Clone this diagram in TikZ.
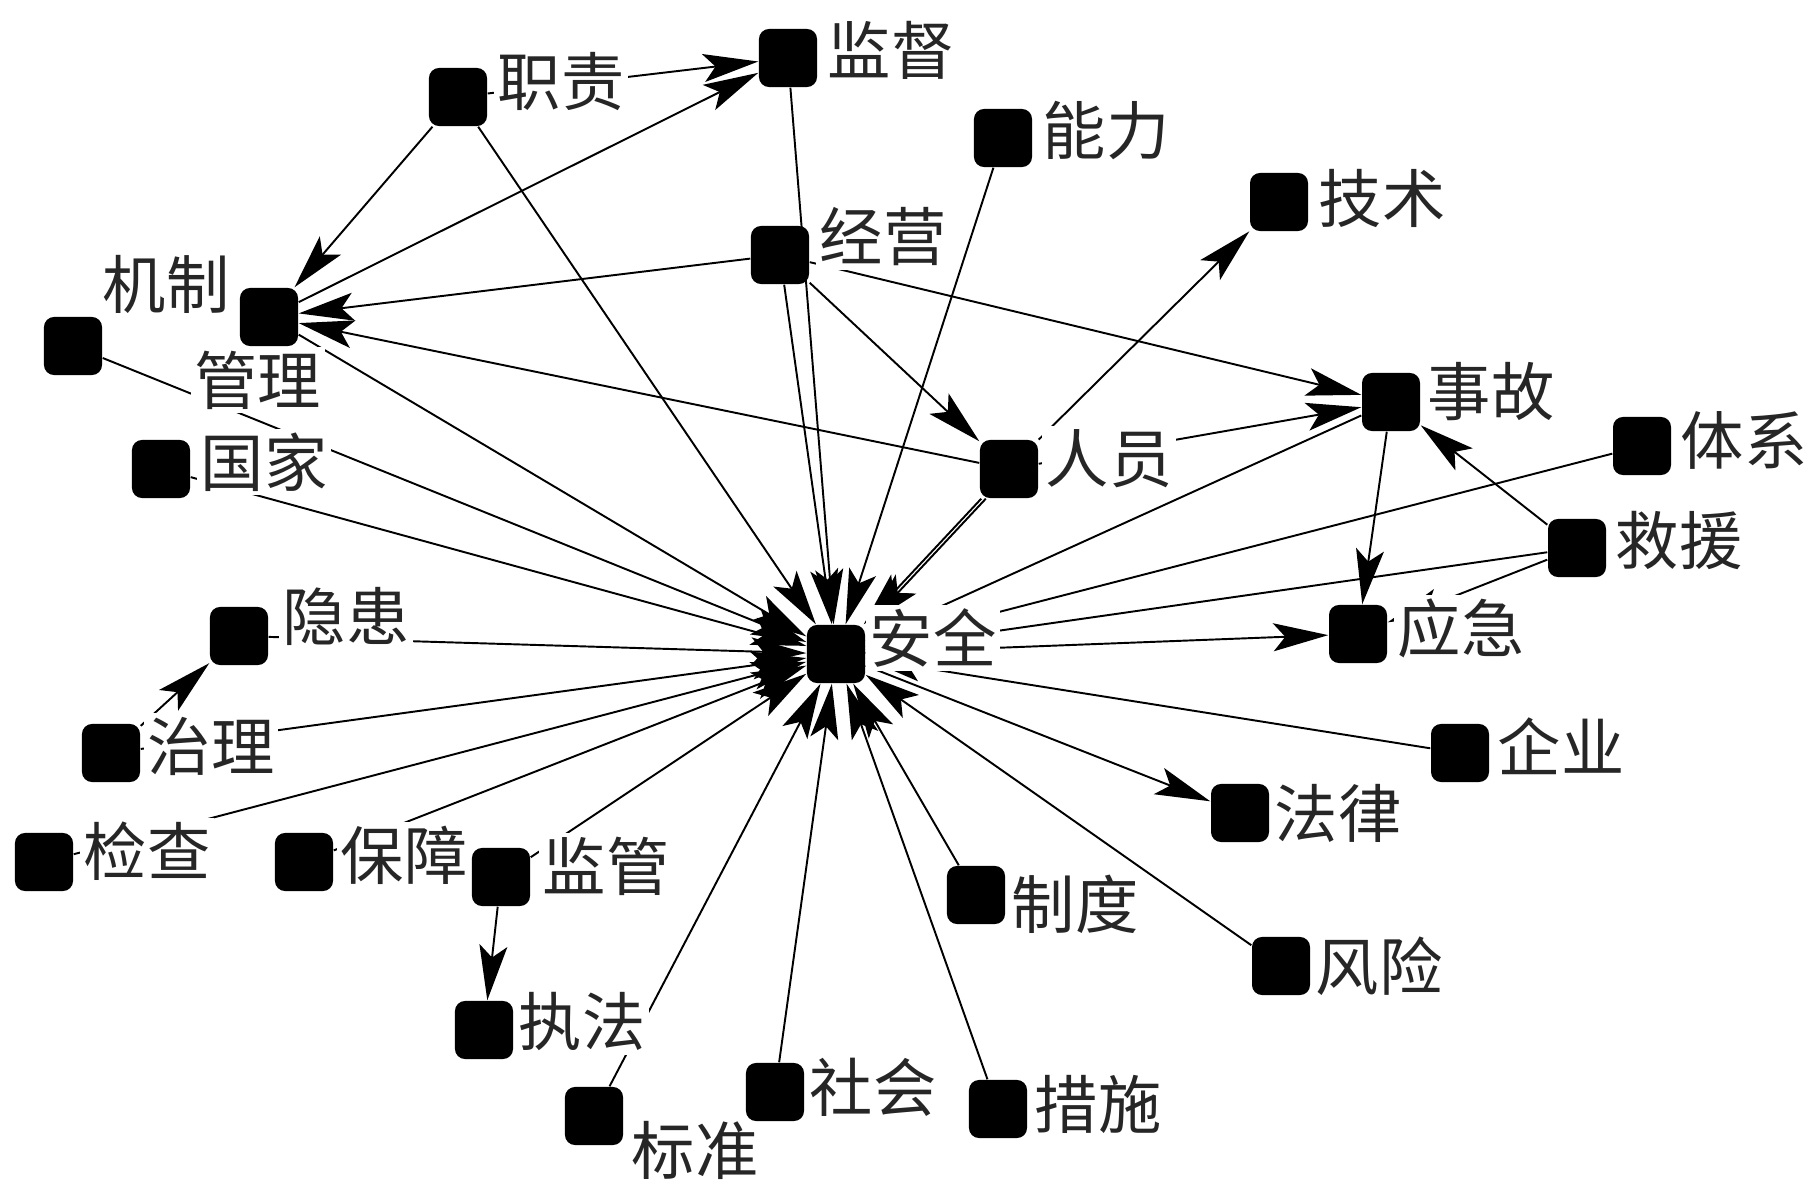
\documentclass[tikz,border=0pt]{standalone}
\usepackage{fontspec}
\newfontfamily\cjk{Noto Sans CJK SC}
\usetikzlibrary{arrows.meta, positioning}

\tikzset{
  vbox/.style={fill=black, rounded corners=0.1cm, minimum size=0.58cm, inner sep=0pt},
  tag/.style={fill=white, inner sep=1pt, text=black!85, font=\cjk\fontsize{18}{20}\selectfont},
  link/.style={line width=0.55pt, -{Stealth[length=0.55cm, width=0.28cm, inset=0.12cm]}}
}

\begin{document}
\begin{tikzpicture}[x=0.01cm, y=-0.01cm]
    \useasboundingbox (0,0) rectangle (1806,1191);
    \node[vbox] (zhize) at (458,97) {};
    \node[vbox] (jiandu) at (788,58) {};
    \node[vbox] (nengli) at (1003,138) {};
    \node[vbox] (jishu) at (1279,202) {};
    \node[vbox] (jingying) at (780,255) {};
    \node[vbox] (jizhi) at (73,346) {};
    \node[vbox] (guanli) at (269,317) {};
    \node[vbox] (guojia) at (161,469) {};
    \node[vbox] (shigu) at (1391,402) {};
    \node[vbox] (renyuan) at (1009,469) {};
    \node[vbox] (tixi) at (1642,446) {};
    \node[vbox] (jiuyuan) at (1577,548) {};
    \node[vbox] (yinhuan) at (239,636) {};
    \node[vbox] (anquan) at (836,654) {};
    \node[vbox] (yingji) at (1358,634) {};
    \node[vbox] (zhili) at (111,753) {};
    \node[vbox] (qiye) at (1460,753) {};
    \node[vbox] (falv) at (1240,813) {};
    \node[vbox] (jiancha) at (44,862) {};
    \node[vbox] (baozhang) at (304,862) {};
    \node[vbox] (jianguan) at (501,877) {};
    \node[vbox] (zhidu) at (976,895) {};
    \node[vbox] (fengxian) at (1281,966) {};
    \node[vbox] (zhifa) at (484,1030) {};
    \node[vbox] (shehui) at (775,1092) {};
    \node[vbox] (biaozhun) at (594,1116) {};
    \node[vbox] (cuoshi) at (998,1109) {};

    % links between the terms
    \draw[link] (zhize) -- (jiandu);
    \draw[link] (guanli) -- (jiandu);
    \draw[link] (zhize) -- (guanli);
    \draw[link] (jingying) -- (guanli);
    \draw[link] (renyuan) -- (guanli);
    \draw[link] (jingying) -- (renyuan);
    \draw[link] (jingying) -- (shigu);
    \draw[link] (renyuan) -- (shigu);
    \draw[link] (renyuan) -- (jishu);
    \draw[link] (shigu) -- (yingji);
    \draw[link] (jiuyuan) -- (shigu);
    \draw[link] (jiuyuan) -- (yingji);
    \draw[link] (zhili) -- (yinhuan);
    \draw[link] (jianguan) -- (zhifa);
    \draw[link] (anquan) -- (yingji);
    \draw[link] (anquan) -- (falv);
    \draw[link] (renyuan) -- (anquan);
    \draw[link, transform canvas={xshift=1.3pt}] (renyuan) -- (anquan);
    \foreach \src in {zhize, jiandu, jingying, nengli, shigu, tixi, jiuyuan, qiye,
                      fengxian, zhidu, cuoshi, shehui, biaozhun, jianguan, baozhang,
                      jiancha, zhili, yinhuan, guojia, jizhi, guanli}
        \draw[link] (\src) -- (anquan);

    % labels
    \node[tag, right=0.06cm of zhize, yshift=0.15cm] (t-zhize) {职责};
    \node[tag, right=0.06cm of jiandu, yshift=0.08cm] (t-jiandu) {监督};
    \node[tag, right=0.06cm of nengli, yshift=0.07cm] (t-nengli) {能力};
    \node[tag, right=0.06cm of jishu, yshift=0.04cm] (t-jishu) {技术};
    \node[tag, right=0.06cm of jingying, yshift=0.18cm] (t-jingying) {经营};
    \node[tag, anchor=south west] (t-jizhi) at ([xshift=-0.04cm, yshift=-0.02cm]jizhi.north east) {机制};
    \node[tag, below=0cm of guanli, xshift=-0.11cm] (t-guanli) {管理};
    \node[tag, right=0.06cm of guojia, yshift=0.07cm] (t-guojia) {国家};
    \node[tag, right=0.03cm of shigu, yshift=0.1cm] (t-shigu) {事故};
    \node[tag, right=0.03cm of renyuan, yshift=0.1cm] (t-renyuan) {人员};
    \node[tag, right=0.05cm of tixi, yshift=0.06cm] (t-tixi) {体系};
    \node[tag, right=0.05cm of jiuyuan, yshift=0.07cm] (t-jiuyuan) {救援};
    \node[tag, right=0.1cm of yinhuan, yshift=0.2cm] (t-yinhuan) {隐患};
    \node[tag, right=0cm of anquan, yshift=0.16cm] (t-anquan) {安全};
    \node[tag, right=0.06cm of yingji, yshift=0.06cm] (t-yingji) {应急};
    \node[tag, right=0.03cm of zhili, yshift=0.07cm] (t-zhili) {治理};
    \node[tag, right=0.04cm of qiye, yshift=0.07cm] (t-qiye) {企业};
    \node[tag, right=0.01cm of falv] (t-falv) {法律};
    \node[tag, right=0.06cm of jiancha, yshift=0.11cm] (t-jiancha) {检查};
    \node[tag, right=0.03cm of baozhang, yshift=0.07cm] (t-baozhang) {保障};
    \node[tag, right=0.08cm of jianguan, yshift=0.11cm] (t-jianguan) {监管};
    \node[tag, right=0.02cm of zhidu, yshift=-0.09cm] (t-zhidu) {制度};
    \node[tag, right=0.01cm of fengxian] (t-fengxian) {风险};
    \node[tag, right=0.01cm of zhifa, yshift=0.08cm] (t-zhifa) {执法};
    \node[tag, right=0.01cm of shehui, yshift=0.05cm] (t-shehui) {社会};
    \node[tag, fill=none, right=0.04cm of biaozhun, yshift=-0.34cm] (t-biaozhun) {标准};
    \node[tag, right=0.03cm of cuoshi, yshift=0.05cm] (t-cuoshi) {措施};
\end{tikzpicture}
\end{document}
